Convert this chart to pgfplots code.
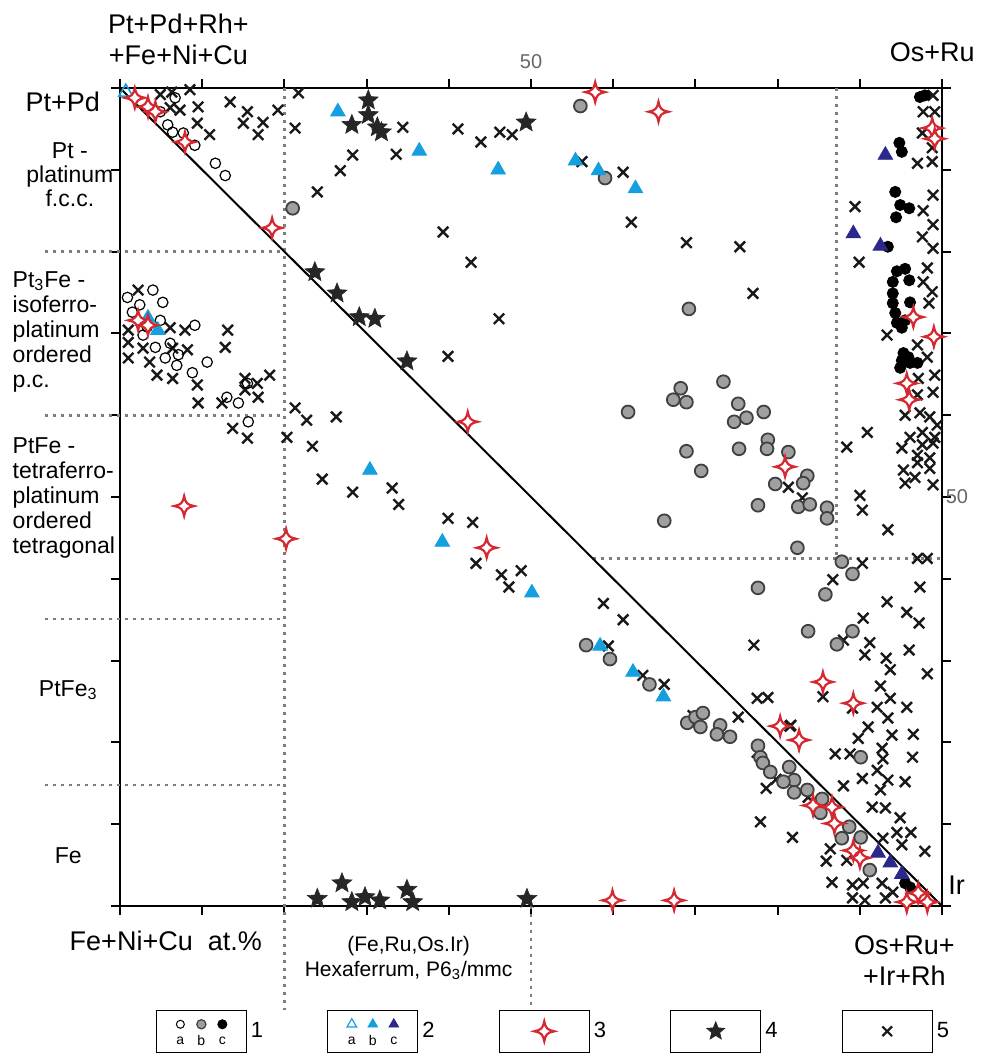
\documentclass[border=0pt]{standalone}
\usepackage{pgfplots}
\pgfplotsset{compat=1.18}
\usepackage{fontspec}
\setmainfont{Liberation Sans}
\usetikzlibrary{plotmarks}

\definecolor{cyanT}{RGB}{20,160,222}
\definecolor{navyT}{RGB}{42,40,140}
\definecolor{redS}{RGB}{214,40,48}
\definecolor{grayC}{RGB}{160,160,160}
\definecolor{dotG}{RGB}{125,125,125}

% four-pointed star with concave sides (series 3)
\pgfdeclareplotmark{star4}{%
  \pgfpathmoveto{\pgfqpoint{0pt}{\pgfplotmarksize}}%
  \pgfpathcurveto{\pgfqpoint{0.12\pgfplotmarksize}{0.32\pgfplotmarksize}}{\pgfqpoint{0.32\pgfplotmarksize}{0.12\pgfplotmarksize}}{\pgfqpoint{\pgfplotmarksize}{0pt}}%
  \pgfpathcurveto{\pgfqpoint{0.32\pgfplotmarksize}{-0.12\pgfplotmarksize}}{\pgfqpoint{0.12\pgfplotmarksize}{-0.32\pgfplotmarksize}}{\pgfqpoint{0pt}{-\pgfplotmarksize}}%
  \pgfpathcurveto{\pgfqpoint{-0.12\pgfplotmarksize}{-0.32\pgfplotmarksize}}{\pgfqpoint{-0.32\pgfplotmarksize}{-0.12\pgfplotmarksize}}{\pgfqpoint{-\pgfplotmarksize}{0pt}}%
  \pgfpathcurveto{\pgfqpoint{-0.32\pgfplotmarksize}{0.12\pgfplotmarksize}}{\pgfqpoint{-0.12\pgfplotmarksize}{0.32\pgfplotmarksize}}{\pgfqpoint{0pt}{\pgfplotmarksize}}%
  \pgfpathclose
  \pgfusepathqfillstroke}

% filled five-pointed star (series 4)
\pgfdeclareplotmark{fstar}{%
  \pgfpathmoveto{\pgfpointpolar{90}{\pgfplotmarksize}}%
  \pgfpathlineto{\pgfpointpolar{126}{0.44\pgfplotmarksize}}%
  \pgfpathlineto{\pgfpointpolar{162}{\pgfplotmarksize}}%
  \pgfpathlineto{\pgfpointpolar{198}{0.44\pgfplotmarksize}}%
  \pgfpathlineto{\pgfpointpolar{234}{\pgfplotmarksize}}%
  \pgfpathlineto{\pgfpointpolar{270}{0.44\pgfplotmarksize}}%
  \pgfpathlineto{\pgfpointpolar{306}{\pgfplotmarksize}}%
  \pgfpathlineto{\pgfpointpolar{342}{0.44\pgfplotmarksize}}%
  \pgfpathlineto{\pgfpointpolar{18}{\pgfplotmarksize}}%
  \pgfpathlineto{\pgfpointpolar{54}{0.44\pgfplotmarksize}}%
  \pgfpathclose
  \pgfusepathqfillstroke}

\pgfplotsset{
  s1a/.style={only marks, mark=o, mark size=2.6pt, mark options={draw=black, line width=0.6pt}},
  s1b/.style={only marks, mark=*, mark size=3.2pt, mark options={draw=black!75, fill=grayC, line width=0.9pt}},
  s1c/.style={only marks, mark=*, mark size=2.8pt, mark options={draw=black, fill=black}},
  s2a/.style={only marks, mark=triangle, mark size=4pt, mark options={draw=cyanT, line width=0.8pt}},
  s2b/.style={only marks, mark=triangle*, mark size=4.2pt, mark options={draw=cyanT, fill=cyanT}},
  s2c/.style={only marks, mark=triangle*, mark size=4.2pt, mark options={draw=navyT, fill=navyT}},
  s3/.style={only marks, mark=star4, mark size=5pt, mark options={draw=redS, fill=white, line width=1.1pt}},
  s4/.style={only marks, mark=fstar, mark size=5.2pt, mark options={draw=black!85, fill=black!85, line width=0.3pt}},
  s5/.style={only marks, mark=x, mark size=3.7pt, mark options={draw=black!90, line width=1.2pt}},
}
\tikzset{dotline/.style={dotG, line width=1.4pt, dash pattern=on 1.4pt off 2.6pt}}

\begin{document}
\begin{tikzpicture}
\begin{axis}[
  scale only axis,
  width=411pt, height=409pt,
  xmin=0, xmax=100, ymin=0, ymax=100,
  axis line style={line width=1pt},
  xtick={0,10,...,100}, ytick={0,10,...,100},
  xticklabels={}, yticklabels={},
  tick align=outside, tick pos=both,
  major tick length=4.5pt,
  tick style={line width=1pt, black},
  clip=false,
  legend columns=5,
  legend style={draw=none, fill=none, at={(axis cs:4.3,-15.3)}, anchor=west,
    inner sep=0pt, column sep=0pt, font=\fontsize{11}{13}\selectfont,
    /tikz/every even column/.append style={column sep=30pt}},
]

% guide lines
\draw[dotline] (axis cs:20,100) -- (axis cs:20,-12.7);
\draw[dotline] (axis cs:50,0) -- (axis cs:50,-12.7);
\draw[dotline] (axis cs:87.2,100) -- (axis cs:87.2,42.5);
\draw[dotline] (axis cs:57.5,42.5) -- (axis cs:100,42.5);
\draw[dotline] (axis cs:-9.1,80) -- (axis cs:19.8,80);
\draw[dotline] (axis cs:-9.1,60) -- (axis cs:20,60);
\draw[dotline] (axis cs:-9.1,35.1) -- (axis cs:20,35.1);
\draw[dotline] (axis cs:-9.1,14.8) -- (axis cs:20,14.8);

\addplot[black, line width=1pt, forget plot] coordinates {(0,100) (100,0)};

% 5 - crosses
\addplot[s5, forget plot] coordinates {
(4.9,99.2)(6.3,99.5)(8.5,99.8)(6.1,97.6)(7.3,97.3)(9.5,97.7)(9.4,95.7)(10.9,94.3)
(13.4,98.3)(15.5,97.1)(15.0,95.7)(17.4,95.8)(16.8,94.3)(19.2,97.3)(21.7,99.4)(21.3,95.1)
(28.3,91.8)(26.8,89.9)(24.0,87.3)
(34.4,95.2)(41.1,95.0)(33.6,91.9)(43.9,93.4)(46.2,94.6)(47.7,94.3)(56.2,91.0)(61.2,89.7)
(62.2,83.6)(39.3,82.4)(42.7,78.7)(68.9,81.1)(75.4,80.6)(77.0,74.9)(46.1,71.8)(39.9,67.2)
(2.2,75.3)(1.0,70.4)(6.1,70.7)(7.9,70.4)(13.1,70.4)(12.8,68.3)(1.0,68.9)(2.8,68.2)
(6.4,68.2)(8.2,68.0)(1.0,67.0)(3.6,66.5)(4.5,64.9)(6.4,64.5)(9.4,63.7)(9.5,61.5)
(12.4,61.5)(15.2,64.5)(16.7,63.9)(18.2,64.9)(15.2,63.1)(16.8,62.2)(13.7,58.4)(15.5,57.2)
(20.3,57.3)(21.3,60.9)
(22.7,59.4)(26.3,59.8)(23.4,56.2)(24.6,52.2)(28.3,50.6)(33.1,51.1)(33.9,49.1)(39.9,47.4)
(42.9,46.9)(43.3,41.9)(46.4,40.5)(48.8,41.0)(47.3,39.0)(58.8,37.0)(61.2,35.0)(59.4,31.8)
(63.6,28.2)(66.2,27.1)
(69.7,23.3)(75.2,23.1)(77.5,25.4)(78.8,25.5)(81.6,22.1)(77.5,18.8)(78.6,14.4)(79.8,15.5)
(77.9,10.3)(81.8,8.4)(83.7,13.3)(77.1,31.9)
(90.4,35.2)(95.7,35.9)(97.2,34.6)(93.3,37.2)(88.0,32.5)(91.2,32.2)(90.6,30.7)(96.0,31.3)
(93.2,30.3)(93.7,28.9)(98.2,28.4)(85.5,25.6)(92.5,26.9)(93.7,25.4)(92.1,24.3)(95.7,24.3)
(89.1,24.2)(93.4,23.0)(91.0,21.9)(89.8,20.5)(93.9,20.9)(96.5,21.0)(81.5,22.0)(92.7,19.3)
(87.0,18.6)(88.8,18.6)(96.4,18.2)(92.8,18.0)(92.1,16.6)(90.3,15.6)(93.4,15.4)(95.5,15.2)
(88.0,14.7)(92.5,14.2)(91.5,12.1)(93.1,12.0)(94.9,10.8)(94.5,9.0)(96.2,9.0)(95.1,7.5)
(97.9,6.7)(92.8,8.3)(86.4,7.0)(85.9,5.5)(88.4,5.6)(86.6,2.9)(89.1,2.6)(90.4,2.8)
(89.1,1.0)(90.6,0.7)(92.7,2.8)(93.1,1.0)(94.0,1.7)
(98.9,99.1)(97.7,97.1)(99.1,97.1)(97.6,94.5)(98.8,92.7)(97.0,90.8)(98.8,91.0)(89.4,85.5)
(98.9,86.9)(97.7,85.0)(98.9,83.3)(97.6,81.8)(98.9,80.4)(89.9,78.7)(98.2,78.0)(97.7,76.3)
(98.8,75.1)(98.4,73.7)(93.3,69.8)(97.0,68.6)(98.2,67.1)(99.1,64.9)(97.1,64.5)(98.9,62.8)
(97.0,62.5)(95.5,60.0)(97.3,60.3)(98.5,59.8)(99.4,58.8)(90.9,57.9)(88.4,56.1)(95.1,56.0)
(96.1,57.3)(97.6,57.9)(99.1,57.3)(97.6,56.4)(98.9,56.6)(97.0,55.1)(98.5,54.8)(95.3,53.3)
(97.0,54.2)(95.5,51.7)(96.7,52.4)(98.5,53.5)(98.9,51.5)(81.3,51.2)(83.0,49.9)(90.0,50.2)
(90.3,48.4)(93.4,46.0)(97.0,42.5)(98.2,42.5)(90.3,41.9)(86.7,39.9)(97.3,39.0)
};

% 1a - open circles
\addplot[s1a, forget plot] coordinates {
(6.7,98.8)(4.9,97.1)(5.8,95.5)(6.4,94.6)(7.7,94.5)(9.1,93.0)(11.6,90.8)(12.8,89.3)
(0.9,74.4)(4.0,75.3)(2.4,73.5)(5.2,73.8)(1.5,72.6)(3.3,70.8)(4.9,71.6)(9.1,71.0)
(2.8,69.8)(4.3,68.3)(6.1,68.8)(5.5,67.0)(7.1,67.4)(6.9,66.1)(8.8,65.2)(10.6,66.5)
(13.0,62.2)(14.4,61.5)(15.6,59.2)(15.5,63.9)
};

% 1b - grey circles
\addplot[s1b, forget plot] coordinates {
(21.0,85.3)(56.0,97.8)(59.0,89.0)(69.2,73.0)(61.8,60.4)(68.2,63.3)(67.3,61.9)(68.9,61.6)
(73.4,64.1)(75.2,61.4)(74.7,59.2)(76.2,59.7)(78.3,60.4)(68.9,55.6)(70.7,53.2)(75.3,55.9)
(78.8,57.0)(78.7,55.9)(81.3,55.5)(79.7,51.6)(83.6,52.6)(83.1,51.7)(77.6,49.0)(82.5,48.8)
(83.9,49.1)(86.0,48.7)(86.0,47.4)(66.2,47.1)(82.4,43.8)(87.8,42.1)(89.1,40.6)(77.6,38.9)
(85.8,38.1)(83.7,33.6)(87.2,32.0)(89.1,33.6)(56.7,31.9)(59.6,30.2)(64.4,27.1)(69.0,22.4)
(70.0,23.1)(70.9,23.6)(70.6,21.9)(73.0,22.1)(72.6,21.0)(74.2,20.7)(77.6,19.6)(77.9,18.2)
(78.2,17.5)(79.1,16.4)(81.4,17.0)(82.0,15.4)(80.7,15.2)(82.0,13.9)(83.6,14.2)(85.4,13.1)
(85.2,11.4)(90.1,18.2)(87.8,8.3)(88.7,9.7)(90.1,8.4)(91.2,4.4)
};

% 1c - black circles
\addplot[s1c, forget plot] coordinates {
(97.3,98.9)(97.9,99.1)(94.8,93.3)(95.1,92.2)(94.3,87.3)(94.9,85.7)(96.0,85.3)(94.4,84.2)
(93.4,80.6)(94.5,77.6)(95.5,77.9)(94.0,76.3)(96.0,76.5)(94.0,74.9)(94.0,73.7)(96.1,73.8)
(94.3,72.5)(94.5,71.3)(95.5,71.6)(95.1,70.7)(95.3,67.6)(95.1,66.7)(94.9,65.8)(96.1,66.4)
(97.0,66.4)(95.9,67.1)(95.5,2.8)(96.1,2.3)
};

% 2 - triangles
\addplot[s2a, forget plot] coordinates {(0.7,99.5)};
\addplot[s2b, forget plot] coordinates {
(26.5,97.1)(36.4,92.3)(46.0,90.0)(55.4,91.1)(58.2,89.9)(62.7,87.7)(30.4,53.3)(39.2,44.5)
(50.1,38.3)(58.4,31.8)(62.4,28.6)(66.1,25.6)(3.4,71.9)(4.6,70.4)
};
\addplot[s2c, forget plot] coordinates {
(93.1,91.8)(89.2,82.2)(92.5,80.7)(92.2,6.5)(93.7,5.3)(95.1,3.9)
};

% 4 - black stars
\addplot[s4, forget plot] coordinates {
(30.2,98.5)(30.2,96.7)(28.2,95.5)(31.3,95.2)(31.8,94.6)(49.4,95.8)(23.7,77.5)(26.4,74.9)
(29.1,72.0)(31.0,71.8)(34.9,66.6)(24.0,0.9)(27.0,2.8)(28.2,0.5)(29.8,1.1)(31.6,0.7)
(34.9,2.0)(35.6,0.5)(49.5,0.9)
};

% 3 - red four-pointed stars
\addplot[s3, forget plot] coordinates {
(1.8,98.8)(3.4,97.7)(4.3,97.1)(7.9,93.4)(18.5,82.9)(2.2,71.6)(3.4,71.0)(7.8,48.9)
(20.2,44.9)(57.8,99.5)(65.5,97.1)(42.3,59.2)(44.6,43.8)(96.5,72.0)(99.0,69.6)(95.7,63.9)
(96.0,61.9)(80.9,53.7)(98.8,95.1)(99.1,93.8)(85.5,27.4)(89.2,24.8)(80.3,22.0)(82.6,20.3)
(84.3,12.3)(86.6,12.1)(86.9,10.1)(89.2,6.8)(90.0,5.9)(95.7,0.5)(97.1,1.6)(98.2,0.5)
(59.9,0.7)(67.4,0.7)
};

% legend
\addlegendimage{legend image code/.code={
  \draw[line width=0.6pt] (0pt,-10.5pt) rectangle (45pt,10.5pt);
  \draw plot[only marks, mark=o, mark size=2pt, mark options={draw=black, line width=0.5pt}] coordinates {(12pt,3.5pt)};
  \draw plot[only marks, mark=*, mark size=2.3pt, mark options={draw=black!75, fill=grayC, line width=0.6pt}] coordinates {(22.5pt,3.5pt)};
  \draw plot[only marks, mark=*, mark size=2.3pt, mark options={draw=black, fill=black}] coordinates {(33pt,3.5pt)};
  \node[font=\fontsize{7}{8}\selectfont, inner sep=0pt] at (12pt,-5.5pt) {a};
  \node[font=\fontsize{7}{8}\selectfont, inner sep=0pt] at (22.5pt,-5.5pt) {b};
  \node[font=\fontsize{7}{8}\selectfont, inner sep=0pt] at (33pt,-5.5pt) {c};
}}
\addlegendentry{1}
\addlegendimage{legend image code/.code={
  \draw[line width=0.6pt] (0pt,-10.5pt) rectangle (45pt,10.5pt);
  \draw plot[only marks, mark=triangle, mark size=2.8pt, mark options={draw=cyanT, line width=0.6pt}] coordinates {(12pt,3.5pt)};
  \draw plot[only marks, mark=triangle*, mark size=2.8pt, mark options={draw=cyanT, fill=cyanT}] coordinates {(22.5pt,3.5pt)};
  \draw plot[only marks, mark=triangle*, mark size=2.8pt, mark options={draw=navyT, fill=navyT}] coordinates {(33pt,3.5pt)};
  \node[font=\fontsize{7}{8}\selectfont, inner sep=0pt] at (12pt,-5.5pt) {a};
  \node[font=\fontsize{7}{8}\selectfont, inner sep=0pt] at (22.5pt,-5.5pt) {b};
  \node[font=\fontsize{7}{8}\selectfont, inner sep=0pt] at (33pt,-5.5pt) {c};
}}
\addlegendentry{2}
\addlegendimage{legend image code/.code={
  \draw[line width=0.6pt] (0pt,-10.5pt) rectangle (45pt,10.5pt);
  \draw plot[only marks, mark=star4, mark size=5pt, mark options={draw=redS, fill=white, line width=1.1pt}] coordinates {(22.5pt,0pt)};
}}
\addlegendentry{3}
\addlegendimage{legend image code/.code={
  \draw[line width=0.6pt] (0pt,-10.5pt) rectangle (45pt,10.5pt);
  \draw plot[only marks, mark=fstar, mark size=4.8pt, mark options={draw=black!85, fill=black!85, line width=0.3pt}] coordinates {(22.5pt,0pt)};
}}
\addlegendentry{4}
\addlegendimage{legend image code/.code={
  \draw[line width=0.6pt] (0pt,-10.5pt) rectangle (45pt,10.5pt);
  \draw plot[only marks, mark=x, mark size=3.4pt, mark options={draw=black!90, line width=1.1pt}] coordinates {(22.5pt,0pt)};
}}
\addlegendentry{5}

% labels
\node[anchor=east, font=\fontsize{13.5}{15}\selectfont, inner sep=0pt] at (axis cs:-2.4,98.3) {Pt+Pd};
\node[align=center, font=\fontsize{13.5}{15.5}\selectfont, inner sep=0pt] at (axis cs:7.1,105.9) {Pt+Pd+Rh+\\+Fe+Ni+Cu};
\node[font=\fontsize{10}{12}\selectfont, text=black!60, inner sep=0pt] at (axis cs:50,103.2) {50};
\node[font=\fontsize{13.5}{15}\selectfont, inner sep=0pt] at (axis cs:98.8,104.4) {Os+Ru};
\node[anchor=west, font=\fontsize{10}{12}\selectfont, text=black!60, inner sep=0pt] at (axis cs:100.4,50) {50};
\node[anchor=west, font=\fontsize{13.5}{15}\selectfont, inner sep=0pt] at (axis cs:100.7,2.6) {Ir};

\node[align=center, font=\fontsize{11.5}{12}\selectfont, inner sep=0pt] at (axis cs:-6.1,89.4) {Pt -\\platinum\\f.c.c.};
\node[align=left, anchor=west, font=\fontsize{11.5}{12.5}\selectfont, inner sep=0pt] at (axis cs:-13.1,70.2) {Pt\textsubscript{3}Fe -\\isoferro-\\platinum\\ordered\\p.c.};
\node[align=left, anchor=west, font=\fontsize{11.5}{12.5}\selectfont, inner sep=0pt] at (axis cs:-13.1,49.9) {PtFe -\\tetraferro-\\platinum\\ordered\\tetragonal};
\node[font=\fontsize{11.5}{12.5}\selectfont, inner sep=0pt] at (axis cs:-6.3,26.4) {PtFe\textsubscript{3}};
\node[font=\fontsize{11.5}{12.5}\selectfont, inner sep=0pt] at (axis cs:-6.3,6.2) {Fe};

\node[anchor=east, font=\fontsize{13.5}{15}\selectfont, inner sep=0pt] at (axis cs:17.3,-4.2) {Fe+Ni+Cu\ \ at.\%};
\node[align=center, font=\fontsize{10.5}{12.5}\selectfont, inner sep=0pt] at (axis cs:35.1,-6.3) {(Fe,Ru,Os.Ir)\\Hexaferrum, P6\textsubscript{3}/mmc};
\node[align=center, font=\fontsize{13.5}{15.5}\selectfont, inner sep=0pt] at (axis cs:95.4,-6.6) {Os+Ru+\\+Ir+Rh};

\coordinate (bbsw) at (axis cs:-14.6,-19.3);
\coordinate (bbne) at (axis cs:104.87,110.76);
\end{axis}
\pgfresetboundingbox
\useasboundingbox (bbsw) rectangle (bbne);
\end{tikzpicture}
\end{document}
